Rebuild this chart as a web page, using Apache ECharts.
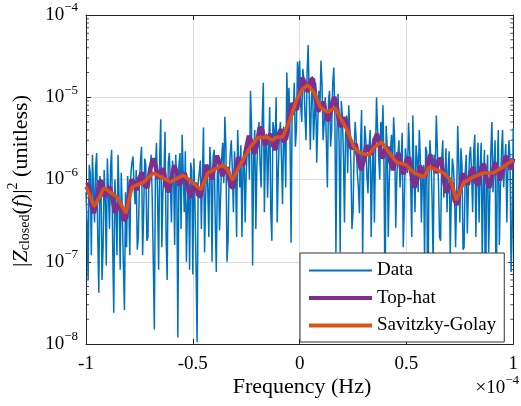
<!DOCTYPE html>
<html><head><meta charset="utf-8">
<script src="https://cdn.jsdelivr.net/npm/echarts@6/dist/echarts.min.js"></script>
<style>html,body{margin:0;padding:0;background:#fff}#c{width:521px;height:406px}</style>
</head><body><div id="c"></div>
<script>
// Frequency axis in units of 1e-4 Hz
const xTicks = [-1, -0.5, 0, 0.5, 1];
const yTickExps = [-8, -7, -6, -5, -4];
// Data samples: grid A at f = -1 + 0.01 i, grid B at f = -0.995 + 0.01 i
const dataValsA = [
  7e-7, 6e-8, 1.2e-6, 2e-6, 3e-7, 2.1e-6, 4.2e-8, 9e-7, 1.5e-7, 6e-7,
  1.8e-6, 2.5e-7, 2.3e-6, 2.4e-8, 5e-7, 2e-6, 8e-8, 4e-7, 2.6e-8, 1.5e-7,
  6e-7, 1.2e-6, 1.9e-6, 5e-7, 1.4e-7, 9e-7, 2.5e-6, 4e-7, 1.5e-6, 2e-7,
  1.1e-6, 6e-7, 1.5e-8, 2.8e-6, 8e-8, 5.4e-6, 7e-7, 3.8e-6, 6e-8, 2.1e-6,
  3e-7, 1.3e-6, 2e-6, 1.2e-8, 2.1e-6, 3.5e-6, 4e-7, 1e-7, 9e-7, 1.6e-6,
  7e-8, 5e-7, 1.05e-8, 1.2e-6, 2.5e-7, 4.3e-6, 6e-7, 8e-7, 2.5e-6, 1e-7,
  2.3e-6, 7.5e-8, 1.5e-6, 6e-7, 2.8e-6, 5.8e-6, 1e-7, 1.1e-6, 3e-6, 4e-7,
  1.3e-6, 4e-6, 8e-7, 2e-7, 2.2e-6, 1.2e-6, 3e-6, 1.2e-5, 9e-8, 4e-6,
  1.5e-6, 5e-6, 8e-7, 1.5e-5, 2.5e-6, 6e-7, 7.6e-6, 1.8e-7, 4e-6, 1e-5,
  1.2e-6, 5e-6, 5e-7, 3e-6, 2e-5, 1.3e-5, 1.7e-7, 6e-6, 2.5e-6, 2.7e-5,
  2.8e-5, 5e-6, 1.6e-5, 3e-6, 4.3e-5, 2.3e-6, 1.8e-5, 6e-6, 1.6e-6, 1.2e-5,
  2.8e-5, 3e-6, 1e-5, 8e-7, 1.2e-5, 4e-6, 2.3e-5, 1.3e-7, 1.1e-5, 1.3e-7,
  6e-6, 3e-7, 6e-6, 8e-6, 1.5e-6, 4e-7, 5e-6, 1.2e-6, 3.9e-7, 7e-6,
  1.5e-6, 3e-6, 6.8e-7, 4e-6, 1.2e-6, 3e-7, 1e-5, 2e-6, 5e-6, 8e-6,
  3e-8, 2.5e-6, 1e-6, 3.5e-6, 5.7e-6, 2.6e-7, 2e-6, 8e-7, 3.7e-6, 5e-7,
  2.5e-6, 4.9e-6, 8e-7, 6e-6, 4e-7, 1.8e-6, 4e-6, 3e-7, 1.5e-6, 2.5e-6,
  1.2e-8, 3e-6, 6e-7, 2e-6, 6e-6, 9e-7, 1.8e-7, 3e-6, 1e-6, 4e-7,
  2.2e-6, 6e-7, 1.4e-6, 1.5e-7, 4.5e-6, 3e-7, 1.5e-6, 1.5e-7, 2e-6, 8e-7,
  2.5e-6, 4e-7, 3.5e-6, 1.2e-6, 3e-7, 2.8e-6, 9e-7, 1.4e-8, 2e-6, 6e-7,
  5e-6, 1.5e-6, 1.8e-8, 4e-6, 8e-7, 4e-6, 1.6e-6, 3e-7, 3e-6, 7.5e-8,
  4.2e-6
];
const dataValsB = [
  3e-7, 1.5e-6, 1.2e-7, 8e-7, 1.4e-6, 2e-7, 1.1e-6, 6e-8, 1.3e-6, 9e-8,
  7e-7, 1.4e-6, 1.5e-7, 1e-6, 1.2e-7, 6e-7, 1.2e-6, 9e-8, 7e-7, 1.1e-6,
  1.2e-7, 1.6e-6, 8e-7, 1.3e-6, 2e-7, 1.7e-6, 1.2e-7, 1.8e-6, 1.8e-7, 1.4e-6,
  2e-6, 1e-7, 1.5e-6, 6e-7, 1.9e-6, 1.5e-7, 1.2e-6, 2e-7, 1.6e-6, 9e-7,
  1.7e-6, 1.6e-7, 9e-7, 1.5e-6, 2.5e-7, 1.2e-6, 2.2e-6, 5e-7, 8e-8, 1.3e-6,
  1.8e-6, 9e-8, 9e-7, 1.7e-6, 1.1e-6, 1.3e-7, 1.5e-6, 2e-7, 1.4e-6, 1.9e-6,
  3e-7, 1.2e-6, 2.4e-7, 1.8e-6, 9e-7, 2.5e-6, 1.8e-7, 2e-6, 1.3e-6, 2.2e-6,
  2e-7, 1.6e-6, 2.6e-6, 1.4e-6, 3e-7, 2.4e-6, 1e-6, 4.5e-6, 2e-6, 2.5e-7,
  3.2e-6, 1.5e-6, 5.5e-6, 4e-7, 3.6e-6, 2.2e-6, 4e-7, 5e-6, 2.4e-6, 3e-7,
  3.4e-6, 1.8e-6, 4.4e-6, 8e-7, 6e-6, 3.5e-6, 8e-6, 1.5e-5, 4e-6, 1.3e-5,
  8e-6, 2.2e-5, 6e-6, 2e-5, 1e-5, 9e-6, 3e-6, 1.5e-5, 5e-6, 7e-6,
  1.4e-5, 5e-6, 3e-6, 9e-6, 2.5e-6, 1.5e-5, 6e-6, 4e-6, 2.5e-6, 9e-6,
  2e-6, 3.5e-6, 1.2e-6, 4e-6, 2.5e-7, 2.2e-6, 3e-6, 8e-7, 2.5e-6, 1.2e-7,
  4.5e-6, 1.1e-6, 2.4e-6, 2e-7, 3.2e-6, 2e-6, 4e-6, 1e-6, 2.6e-6, 1.4e-6,
  4.5e-6, 2e-7, 2.2e-6, 1.3e-6, 3e-6, 1.1e-6, 3e-6, 1.6e-6, 1.5e-7, 2.4e-6,
  1.2e-6, 2.2e-6, 2e-7, 1.3e-6, 2.6e-6, 7e-7, 1.8e-6, 1.1e-6, 1e-7, 2.2e-6,
  9e-7, 1.7e-6, 9e-8, 1.3e-6, 2.2e-6, 2e-7, 1.7e-6, 6e-7, 2.4e-6, 1.3e-6,
  1.2e-7, 1.8e-6, 7e-7, 6e-7, 1.6e-6, 2.4e-6, 1.4e-7, 1.2e-6, 2.2e-7, 1.9e-6,
  1.2e-6, 2.2e-6, 2e-7, 2.8e-6, 1.4e-6, 1e-7, 2.3e-6, 1e-6, 1.3e-7, 2.1e-6,
  7e-7, 3e-6, 1.2e-6, 1.6e-7, 2.2e-6, 8e-7, 2.7e-6, 1.4e-6, 1.8e-6, 2.5e-7
];
// Top-hat: grid A at f = -1 + 0.025 k, grid B at f = -0.9875 + 0.025 k
const topHatValsA = [
  8.5e-7, 4.9e-7, 5.6e-7, 9.3e-7, 7e-7, 5.6e-7, 4.9e-7, 3.2e-7, 6e-7, 9.3e-7,
  1.05e-6, 8.4e-7, 1.3e-6, 1.5e-6, 1.24e-6, 8.4e-7, 1.05e-6, 1.24e-6, 1e-6, 8.5e-7,
  7.5e-7, 6.5e-7, 1e-6, 1.3e-6, 1.38e-6, 1.63e-6, 1.3e-6, 8.5e-7, 1.24e-6, 1.63e-6,
  2.4e-6, 2.86e-6, 2.6e-6, 4e-6, 3e-6, 2.6e-6, 3.5e-6, 2.86e-6, 5.6e-6, 7.4e-6,
  1.16e-5, 1.5e-5, 1.6e-5, 9.8e-6, 8e-6, 5.6e-6, 8.2e-6, 7.4e-6, 4.6e-6, 4.2e-6,
  2.4e-6, 1.8e-6, 1.7e-6, 2.3e-6, 3e-6, 2.6e-6, 2.2e-6, 1.63e-6, 1.8e-6, 1.38e-6,
  1.73e-6, 1.13e-6, 1e-6, 1.24e-6, 1.63e-6, 1.5e-6, 1.73e-6, 1e-6, 8.5e-7, 5.6e-7,
  7.5e-7, 1.05e-6, 1.24e-6, 9.3e-7, 1.38e-6, 1e-6, 1.1e-6, 1.38e-6, 1.24e-6, 1.73e-6,
  1.8e-6
];
const topHatValsB = [
  8.7e-7, 3.9e-7, 9.6e-7, 6.1e-7, 8.2e-7, 3.9e-7, 5.2e-7, 3.4e-7, 9.9e-7, 7.4e-7,
  1.22e-6, 8e-7, 1.8e-6, 1.03e-6, 1.35e-6, 7e-7, 1.48e-6, 8.4e-7, 1.2e-6, 6e-7,
  9.1e-7, 6.2e-7, 1.5e-6, 1e-6, 1.95e-6, 1.1e-6, 1.4e-6, 7.9e-7, 1.86e-6, 1.5e-6,
  3.4e-6, 2.05e-6, 4.3e-6, 2.6e-6, 3.6e-6, 2.3e-6, 4.1e-6, 3.2e-6, 8.5e-6, 7.1e-6,
  1.73e-5, 1.16e-5, 1.68e-5, 6.7e-6, 8.8e-6, 5.2e-6, 1.01e-5, 4.5e-6, 5.7e-6, 2.5e-6,
  2.7e-6, 1.3e-6, 2.6e-6, 2e-6, 3.6e-6, 1.8e-6, 2.5e-6, 1.3e-6, 2.1e-6, 1.16e-6,
  1.86e-6, 8e-7, 1.46e-6, 1.07e-6, 2e-6, 1.2e-6, 1.78e-6, 6.9e-7, 9.1e-7, 4.9e-7,
  1.17e-6, 8.6e-7, 1.4e-6, 8.6e-7, 1.55e-6, 7.9e-7, 1.6e-6, 9.8e-7, 1.93e-6, 1.32e-6
];
const sgFreq = [
  -1.0, -0.961, -0.915, -0.882, -0.855, -0.813, -0.785, -0.730, -0.684, -0.647,
  -0.605, -0.545, -0.499, -0.462, -0.430, -0.402, -0.360, -0.337, -0.314, -0.286,
  -0.240, -0.199, -0.152, -0.129, -0.106, -0.079, -0.046, -0.014, 0.009, 0.037,
  0.069, 0.097, 0.129, 0.166, 0.189, 0.222, 0.254, 0.282, 0.323, 0.351,
  0.383, 0.420, 0.453, 0.499, 0.536, 0.582, 0.605, 0.642, 0.674, 0.707,
  0.734, 0.767, 0.813, 0.859, 0.905, 0.952, 1.0
];
const sgVals = [
  8.2e-7, 4.7e-7, 7.9e-7, 6.85e-7, 6.1e-7, 3.9e-7, 8.1e-7, 9.3e-7, 1.2e-6, 1.07e-6,
  9.3e-7, 1.13e-6, 9.1e-7, 7.5e-7, 1.2e-6, 1.31e-6, 1.5e-6, 1.31e-6, 9.9e-7, 1.38e-6,
  2.28e-6, 3.2e-6, 3.29e-6, 3.0e-6, 3.29e-6, 3.29e-6, 5.3e-6, 9.3e-6, 1.22e-5, 1.41e-5,
  1.13e-5, 7.6e-6, 6.6e-6, 7.4e-6, 5.75e-6, 4.0e-6, 2.48e-6, 2.1e-6, 1.99e-6, 2.48e-6,
  2.86e-6, 2.1e-6, 1.63e-6, 1.5e-6, 1.2e-6, 1.07e-6, 1.42e-6, 1.31e-6, 1.2e-6, 9.9e-7,
  5.6e-7, 9.1e-7, 1.07e-6, 1.2e-6, 1.2e-6, 1.42e-6, 1.73e-6
];
const seriesNames = ['Data', 'Top-hat', 'Savitzky-Golay'];
const colors = ['#0072BD', '#7E2F8E', '#D95319'];

const FONT = '"Liberation Serif", "DejaVu Serif", serif';
const minorVals = [];
for (let d = -8; d < -4; d++) for (let m = 2; m <= 9; m++) minorVals.push(m * Math.pow(10, d));

function merge(a, a0, b, b0, step) {
  const out = [];
  a.forEach((v, i) => out.push([+(a0 + i * step).toFixed(5), v]));
  b.forEach((v, i) => out.push([+(b0 + i * step).toFixed(5), v]));
  return out.sort((p, q) => p[0] - q[0]);
}
const dataSeries = merge(dataValsA, -1, dataValsB, -0.995, 0.01);
const topHatSeries = merge(topHatValsA, -1, topHatValsB, -0.9875, 0.025);
const sgSeries = sgVals.map((v, i) => [sgFreq[i], v]);

const axisColor = '#262626';
const chart = echarts.init(document.getElementById('c'), null, {renderer: 'canvas'});
chart.setOption({
  animation: false,
  backgroundColor: '#fff',
  grid: {left: 86, right: 2, top: 15, bottom: 62},
  xAxis: [{
    type: 'value', min: -1, max: 1, interval: 0.5, position: 'bottom',
    axisLine: {show: true, onZero: false, lineStyle: {color: axisColor, width: 1}},
    axisTick: {show: true, inside: true, length: 5, lineStyle: {color: axisColor}},
    axisLabel: {margin: 11, fontFamily: FONT, fontSize: 19, color: '#000',
      formatter: v => String(v)},
    splitLine: {show: true, lineStyle: {color: '#dcdcdc', width: 1}}
  }, {
    type: 'value', min: -1, max: 1, interval: 0.5, position: 'top',
    axisLine: {show: true, onZero: false, lineStyle: {color: axisColor, width: 1}},
    axisTick: {show: true, inside: true, length: 5, lineStyle: {color: axisColor}},
    axisLabel: {show: false}, splitLine: {show: false}
  }],
  yAxis: [{
    type: 'log', logBase: 10, min: 1e-8, max: 1e-4, splitNumber: 4, position: 'left',
    axisLine: {show: true, onZero: false, lineStyle: {color: axisColor, width: 1}},
    axisTick: {show: true, inside: true, length: 5, lineStyle: {color: axisColor}},
    axisLabel: {margin: 8, color: '#000',
      formatter: v => '{b|10}{e|\u2212' + Math.abs(Math.round(Math.log10(v))) + '}',
      rich: {b: {fontFamily: FONT, fontSize: 19, color: '#000'},
             e: {fontFamily: FONT, fontSize: 13, color: '#000', padding: [0, 0, 14, 0]}}},
    splitLine: {show: true, lineStyle: {color: '#dcdcdc', width: 1}}
  }, {
    type: 'log', logBase: 10, min: 1e-8, max: 1e-4, splitNumber: 4, position: 'right',
    axisLine: {show: true, onZero: false, lineStyle: {color: axisColor, width: 1}},
    axisTick: {show: true, inside: true, length: 5, lineStyle: {color: axisColor}},
    axisLabel: {show: false}, splitLine: {show: false}
  }],
  legend: {
    data: [
      {name: 'Data', lineStyle: {width: 2}},
      {name: 'Top-hat', lineStyle: {width: 4}},
      {name: 'Savitzky-Golay', lineStyle: {width: 4}}
    ],
    orient: 'vertical', left: 300, top: 253,
    itemWidth: 63, itemHeight: 14, itemGap: 8.5,
    padding: [8, 8, 7, 7],
    itemStyle: {opacity: 0},
    backgroundColor: '#fff', borderColor: '#333', borderWidth: 1, borderRadius: 0,
    textStyle: {fontFamily: FONT, fontSize: 19, color: '#000'},
    z: 20, selectedMode: false
  },
  graphic: [
    {type: 'text', x: 302, y: 387, z: 10,
      style: {text: 'Frequency (Hz)', font: '22px ' + FONT, fill: '#000', align: 'center', verticalAlign: 'middle'}},
    {type: 'text', x: 519, y: 388, z: 10,
      style: {text: '{m|\u00d710}{e|\u22124}', align: 'right', verticalAlign: 'middle',
        rich: {m: {fontFamily: FONT, fontSize: 19, fill: '#000'},
               e: {fontFamily: FONT, fontSize: 13, fill: '#000', padding: [0, 0, 14, 0]}}}},
    {type: 'text', x: 21, y: 181, rotation: Math.PI / 2, z: 10,
      style: {text: '{n||}{i|Z}{s|closed}{n|(}{i|f}{n|)|}{p|2}{n| (unitless)}',
        align: 'center', verticalAlign: 'middle',
        rich: {n: {fontFamily: FONT, fontSize: 22, fill: '#000'},
               i: {fontFamily: FONT, fontSize: 22, fontStyle: 'italic', fill: '#000'},
               s: {fontFamily: FONT, fontSize: 14, fill: '#000', padding: [9, 0, 0, 0]},
               p: {fontFamily: FONT, fontSize: 14, fill: '#000', padding: [0, 0, 15, 0]}}}}
  ],
  series: [
    {
      name: 'minor', type: 'scatter', xAxisIndex: 0, yAxisIndex: 0, silent: true, z: 1,
      symbol: 'rect', symbolSize: [3, 1], itemStyle: {color: axisColor},
      data: minorVals.map(v => [-1, v]), symbolOffset: [1.5, 0],
      markLine: {silent: true, symbol: 'none', label: {show: false}, animation: false,
        lineStyle: {color: '#c4c4c4', width: 1, type: [2, 5]},
        data: minorVals.map(v => ({yAxis: v}))}
    },
    {
      name: 'minorR', type: 'scatter', xAxisIndex: 0, yAxisIndex: 0, silent: true, z: 1,
      symbol: 'rect', symbolSize: [3, 1], itemStyle: {color: axisColor},
      data: minorVals.map(v => [1, v]), symbolOffset: [-1.5, 0]
    },
    {name: 'Data', type: 'line', data: dataSeries, showSymbol: false, symbol: 'none', z: 3,
      lineStyle: {color: colors[0], width: 1.5}, itemStyle: {color: colors[0]}},
    {name: 'Top-hat', type: 'line', data: topHatSeries, showSymbol: false, symbol: 'none', z: 4,
      lineStyle: {color: colors[1], width: 4.5}, itemStyle: {color: colors[1]}},
    {name: 'Savitzky-Golay', type: 'line', data: sgSeries, showSymbol: false, symbol: 'none', z: 5,
      lineStyle: {color: colors[2], width: 3.5}, itemStyle: {color: colors[2]}}
  ]
});
</script>
</body></html>
